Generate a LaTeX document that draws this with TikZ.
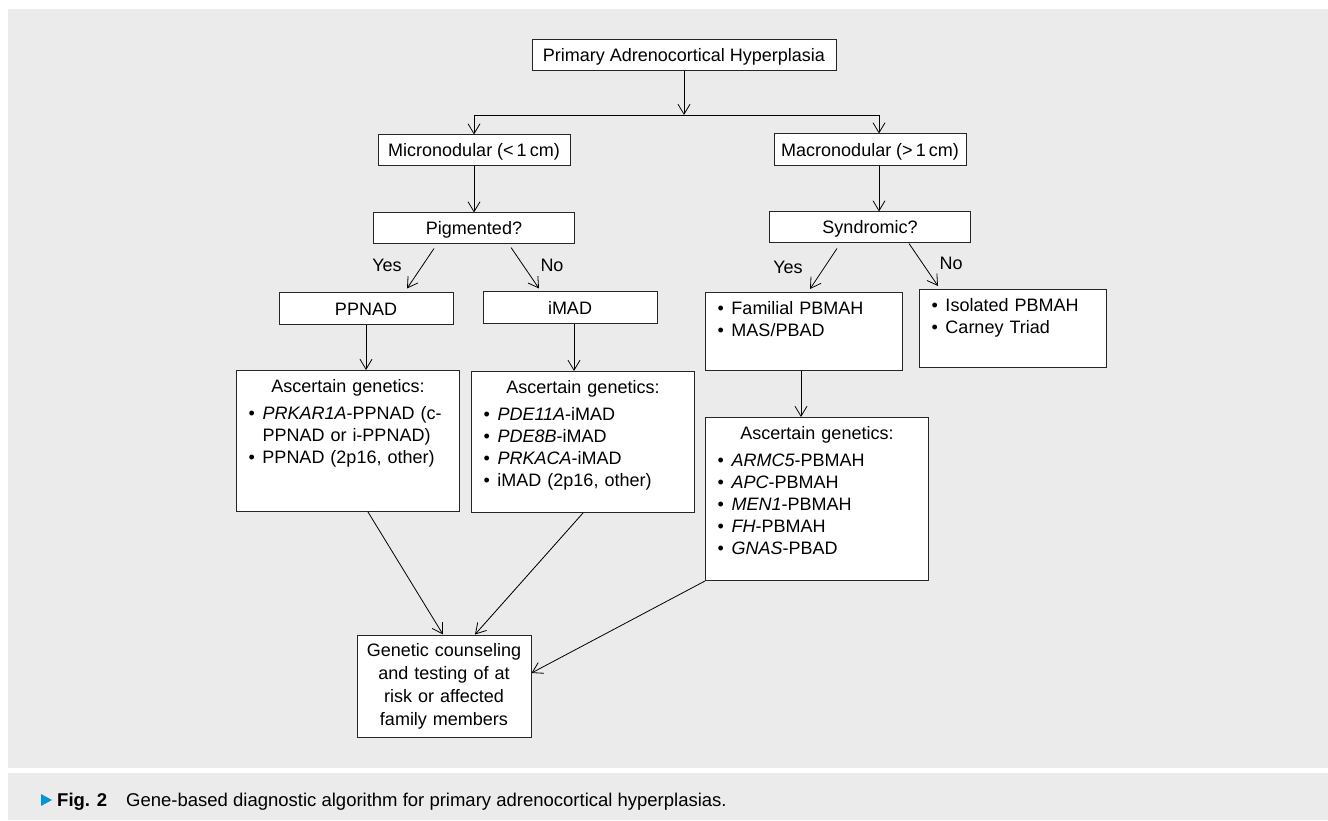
\documentclass[tikz,border=0pt]{standalone}
\usepackage{fontspec}
\setmainfont{Liberation Sans}
\usetikzlibrary{positioning, calc, arrows.meta}
\definecolor{panelgray}{RGB}{235,235,235}
\definecolor{capblue}{RGB}{0,150,220}
\newcommand{\boxfont}{\fontsize{18}{22}\selectfont}
\newcommand{\bul}{\makebox[14pt][l]{\textbullet}}
\newcommand{\bulgap}{\makebox[14pt][l]{}}
\newcommand{\heading}[1]{\makebox[\linewidth]{#1}}

\begin{document}
\begin{tikzpicture}[x=1pt, y=1pt, >={Straight Barb[length=10pt,width=12pt]},
  frame/.style={rectangle, draw=black!85, line width=1pt, fill=white, inner sep=0pt, font=\boxfont},
  block/.style={frame, text height=13pt, text depth=0pt},
  listblock/.style={frame, anchor=north west, align=left, inner xsep=12pt, inner ysep=0pt, text height=22.5pt},
  answer/.style={font=\boxfont, text height=13pt, text depth=0pt, inner sep=0pt},
  link/.style={->, line width=0.8pt}]
\useasboundingbox (0,0) rectangle (1328,820);
\fill [white] (0,0) rectangle (1328,820);
\fill [panelgray] (8,52) rectangle (1328,811);
\fill [panelgray] (8,0) rectangle (1328,47);

\node (top) [block, minimum width=304pt, minimum height=31pt] at (684,764.5) {Primary Adrenocortical Hyperplasia};
\node (micro) [block, minimum width=192pt, minimum height=31pt] at (474,669.5) {Micronodular (<\,1\,cm)};
\node (macro) [block, minimum width=192pt, minimum height=32pt] at (870,670) {Macronodular (>\,1\,cm)};
\node (pigm) [block, minimum width=201pt, minimum height=31pt, below=46pt of micro] {Pigmented?};
\node (synd) [block, minimum width=201pt, minimum height=31pt, below=45pt of macro] {Syndromic?};
\node (ppnad) [block, minimum width=174pt, minimum height=32pt] at (366,511) {PPNAD};
\node (imad) [block, minimum width=174pt, minimum height=32pt] at (570,512) {iMAD};
\node (famil) [listblock, text width=173pt, text depth=55.5pt] at (705,528) {\bul Familial PBMAH\\\bul MAS/PBAD};
\node (isol) [listblock, text width=163pt, text depth=55.5pt] at (919,531) {\bul Isolated PBMAH\\\bul Carney Triad};
\node (ppgen) [listblock, text width=199pt, text depth=118.5pt] at (236,450) {\heading{Ascertain genetics:}\\[5pt]\bul\textit{PRKAR1A}-PPNAD (c-\\\bulgap PPNAD or i-PPNAD)\\\bul PPNAD (2p16, other)};
\node (imgen) [listblock, text width=199pt, text depth=118.5pt] at (471,449) {\heading{Ascertain genetics:}\\[5pt]\bul\textit{PDE11A}-iMAD\\\bul\textit{PDE8B}-iMAD\\\bul\textit{PRKACA}-iMAD\\\bul iMAD (2p16, other)};
\node (mcgen) [listblock, text width=199pt, text depth=140.5pt] at (705,403) {\heading{Ascertain genetics:}\\[5pt]\bul\textit{ARMC5}-PBMAH\\\bul\textit{APC}-PBMAH\\\bul\textit{MEN1}-PBMAH\\\bul\textit{FH}-PBMAH\\\bul\textit{GNAS}-PBAD};
\node (final) [frame, align=center, text width=170pt, minimum width=174pt, minimum height=102pt, font=\fontsize{18}{23}\selectfont] at (444,134) {Genetic counseling\\and testing of at\\risk or affected\\family members};

\node (yesl) [answer] at (387,555) {Yes};
\node (nol) [answer] at (552,555) {No};
\node (yesr) [answer] at (788,553) {Yes};
\node (nor) [answer] at (951,557) {No};

\coordinate (barL) at (474,705);
\coordinate (barR) at (879,705);
\draw [link] (top.south) -- (top.south |- barL);
\draw [line width=0.8pt] (barL) -- (barR);
\draw [link] (barL) -- (micro.north);
\draw [link] (barR) -- (barR |- macro.north);
\draw [link] (micro) -- (pigm);
\draw [link] (barR |- macro.south) -- (barR |- synd.north);
\draw [link] ([xshift=-40pt,yshift=-4pt]pigm.south) -- ([xshift=41pt,yshift=4pt]ppnad.north);
\draw [link] ([xshift=37pt,yshift=-3pt]pigm.south) -- ([xshift=-31pt,yshift=3pt]imad.north);
\draw [link] ([xshift=-33pt,yshift=-5pt]synd.south) -- ([xshift=6pt,yshift=3pt]famil.north);
\draw [link] ([xshift=39pt]synd.south) -- ([xshift=-75pt,yshift=3pt]isol.north);
\draw [link] (ppnad) -- (ppnad.south |- ppgen.north);
\draw [link] ([xshift=4pt]imad.south) -- ([xshift=4pt]imad.south |- imgen.north);
\draw [link] ([xshift=-3pt]famil.south) -- ([xshift=-3pt]famil.south |- mcgen.north);
\draw [link] ([xshift=20pt]ppgen.south) -- ([xshift=-1pt]final.north);
\draw [link] (imgen.south) -- ([xshift=31pt]final.north);
\draw [link] (mcgen.south west) -- ([yshift=13pt]final.east);

\fill [capblue] (41,26) -- (52,20) -- (41,14) -- cycle;
\node (cap) [anchor=base west, inner sep=0pt, font=\fontsize{18.5}{22}\selectfont] at (57,14) {\textbf{Fig. 2}\hspace{19pt}Gene-based diagnostic algorithm for primary adrenocortical hyperplasias.};
\end{tikzpicture}
\end{document}
